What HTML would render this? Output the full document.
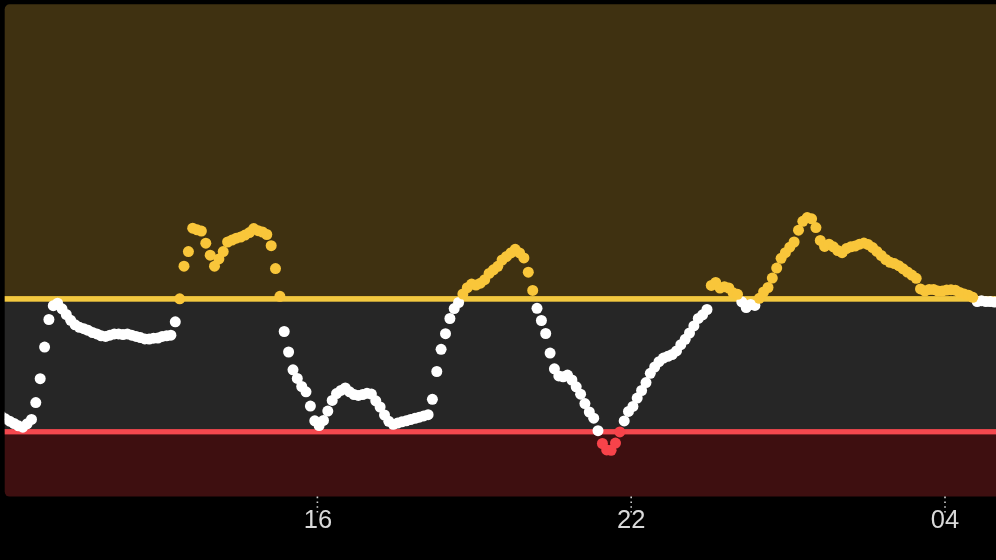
<!DOCTYPE html>
<html lang="en">
<head>
<meta charset="utf-8">
<title>Glucose chart</title>
<style>
html,body{margin:0;padding:0;background:#000;}
body{width:996px;height:560px;overflow:hidden;position:relative;font-family:"Liberation Sans",sans-serif;}
svg{position:absolute;left:0;top:0;display:block;}
.lbl{position:absolute;top:505px;width:60px;margin-left:-30px;text-align:center;color:#d9d9d9;font-size:25.5px;line-height:28px;letter-spacing:0px;}
</style>
</head>
<body>
<svg width="996" height="560" viewBox="0 0 996 560">
<defs>
<clipPath id="plot"><rect x="4.7" y="4.2" width="1010" height="492.4" rx="5" ry="5"/></clipPath>
</defs>
<g clip-path="url(#plot)">
<rect x="0" y="0" width="996" height="298.9" fill="#3f3111"/>
<rect x="0" y="298.9" width="996" height="132.9" fill="#262626"/>
<rect x="0" y="431.75" width="996" height="128.2" fill="#3e0f10"/>
<rect x="0" y="296.10" width="996" height="5.6" fill="#f3c83f"/>
<rect x="0" y="429.10" width="996" height="5.3" fill="#f4484e"/>
<g fill="#ffffff">
<circle cx="1.0" cy="416.0" r="5.5"/>
<circle cx="5.3" cy="418.8" r="5.5"/>
<circle cx="9.7" cy="421.2" r="5.5"/>
<circle cx="14.1" cy="423.5" r="5.5"/>
<circle cx="18.4" cy="425.8" r="5.5"/>
<circle cx="22.8" cy="427.2" r="5.5"/>
<circle cx="27.1" cy="423.8" r="5.5"/>
<circle cx="31.5" cy="419.4" r="5.5"/>
<circle cx="35.8" cy="402.6" r="5.5"/>
<circle cx="40.2" cy="378.7" r="5.5"/>
<circle cx="44.6" cy="347.1" r="5.5"/>
<circle cx="48.9" cy="319.5" r="5.5"/>
<circle cx="53.3" cy="305.7" r="5.5"/>
<circle cx="57.6" cy="303.2" r="5.5"/>
<circle cx="62.0" cy="308.8" r="5.5"/>
<circle cx="66.3" cy="314.5" r="5.5"/>
<circle cx="70.7" cy="320.3" r="5.5"/>
<circle cx="75.1" cy="324.8" r="5.5"/>
<circle cx="79.4" cy="327.3" r="5.5"/>
<circle cx="83.8" cy="328.7" r="5.5"/>
<circle cx="88.1" cy="330.3" r="5.5"/>
<circle cx="92.5" cy="332.5" r="5.5"/>
<circle cx="96.9" cy="333.9" r="5.5"/>
<circle cx="101.2" cy="335.8" r="5.5"/>
<circle cx="105.6" cy="336.4" r="5.5"/>
<circle cx="109.9" cy="335.2" r="5.5"/>
<circle cx="114.3" cy="333.9" r="5.5"/>
<circle cx="118.6" cy="333.9" r="5.5"/>
<circle cx="123.0" cy="334.5" r="5.5"/>
<circle cx="127.4" cy="333.9" r="5.5"/>
<circle cx="131.7" cy="335.2" r="5.5"/>
<circle cx="136.1" cy="336.4" r="5.5"/>
<circle cx="140.4" cy="337.6" r="5.5"/>
<circle cx="144.8" cy="338.9" r="5.5"/>
<circle cx="149.2" cy="339.0" r="5.5"/>
<circle cx="153.5" cy="338.2" r="5.5"/>
<circle cx="157.9" cy="338.0" r="5.5"/>
<circle cx="162.2" cy="336.4" r="5.5"/>
<circle cx="166.6" cy="335.8" r="5.5"/>
<circle cx="170.9" cy="335.2" r="5.5"/>
<circle cx="175.3" cy="321.8" r="5.5"/>
<circle cx="284.2" cy="331.5" r="5.5"/>
<circle cx="288.6" cy="352.0" r="5.5"/>
<circle cx="293.0" cy="369.8" r="5.5"/>
<circle cx="297.3" cy="378.4" r="5.5"/>
<circle cx="301.7" cy="386.5" r="5.5"/>
<circle cx="306.0" cy="391.8" r="5.5"/>
<circle cx="310.4" cy="406.1" r="5.5"/>
<circle cx="314.8" cy="420.8" r="5.5"/>
<circle cx="319.1" cy="425.5" r="5.5"/>
<circle cx="323.5" cy="420.4" r="5.5"/>
<circle cx="327.8" cy="411.1" r="5.5"/>
<circle cx="332.2" cy="400.4" r="5.5"/>
<circle cx="336.5" cy="393.6" r="5.5"/>
<circle cx="340.9" cy="390.4" r="5.5"/>
<circle cx="345.3" cy="387.9" r="5.5"/>
<circle cx="349.6" cy="391.8" r="5.5"/>
<circle cx="354.0" cy="394.5" r="5.5"/>
<circle cx="358.3" cy="395.4" r="5.5"/>
<circle cx="362.7" cy="394.5" r="5.5"/>
<circle cx="367.0" cy="393.3" r="5.5"/>
<circle cx="371.4" cy="394.1" r="5.5"/>
<circle cx="375.8" cy="400.8" r="5.5"/>
<circle cx="380.1" cy="407.0" r="5.5"/>
<circle cx="384.5" cy="415.0" r="5.5"/>
<circle cx="388.8" cy="421.3" r="5.5"/>
<circle cx="393.2" cy="424.3" r="5.5"/>
<circle cx="397.6" cy="423.1" r="5.5"/>
<circle cx="401.9" cy="421.8" r="5.5"/>
<circle cx="406.3" cy="420.8" r="5.5"/>
<circle cx="410.6" cy="419.5" r="5.5"/>
<circle cx="415.0" cy="418.3" r="5.5"/>
<circle cx="419.3" cy="417.2" r="5.5"/>
<circle cx="423.7" cy="415.9" r="5.5"/>
<circle cx="428.1" cy="414.7" r="5.5"/>
<circle cx="432.4" cy="399.3" r="5.5"/>
<circle cx="436.8" cy="371.5" r="5.5"/>
<circle cx="441.1" cy="349.3" r="5.5"/>
<circle cx="445.5" cy="333.7" r="5.5"/>
<circle cx="449.9" cy="318.5" r="5.5"/>
<circle cx="454.2" cy="308.6" r="5.5"/>
<circle cx="458.6" cy="302.5" r="5.5"/>
<circle cx="537.0" cy="308.3" r="5.5"/>
<circle cx="541.4" cy="320.5" r="5.5"/>
<circle cx="545.7" cy="333.5" r="5.5"/>
<circle cx="550.1" cy="353.1" r="5.5"/>
<circle cx="554.4" cy="368.8" r="5.5"/>
<circle cx="558.8" cy="375.9" r="5.5"/>
<circle cx="563.2" cy="376.8" r="5.5"/>
<circle cx="567.5" cy="375.1" r="5.5"/>
<circle cx="571.9" cy="380.0" r="5.5"/>
<circle cx="576.2" cy="386.8" r="5.5"/>
<circle cx="580.6" cy="394.2" r="5.5"/>
<circle cx="584.9" cy="403.6" r="5.5"/>
<circle cx="589.3" cy="412.0" r="5.5"/>
<circle cx="593.7" cy="418.2" r="5.5"/>
<circle cx="598.0" cy="430.7" r="5.5"/>
<circle cx="624.2" cy="420.9" r="5.5"/>
<circle cx="628.5" cy="411.4" r="5.5"/>
<circle cx="632.9" cy="406.4" r="5.5"/>
<circle cx="637.2" cy="398.1" r="5.5"/>
<circle cx="641.6" cy="390.5" r="5.5"/>
<circle cx="646.0" cy="382.6" r="5.5"/>
<circle cx="650.3" cy="373.3" r="5.5"/>
<circle cx="654.7" cy="367.0" r="5.5"/>
<circle cx="659.0" cy="361.7" r="5.5"/>
<circle cx="663.4" cy="358.1" r="5.5"/>
<circle cx="667.8" cy="356.3" r="5.5"/>
<circle cx="672.1" cy="354.5" r="5.5"/>
<circle cx="676.5" cy="350.9" r="5.5"/>
<circle cx="680.8" cy="344.7" r="5.5"/>
<circle cx="685.2" cy="339.3" r="5.5"/>
<circle cx="689.5" cy="333.0" r="5.5"/>
<circle cx="693.9" cy="325.9" r="5.5"/>
<circle cx="698.3" cy="318.4" r="5.5"/>
<circle cx="702.6" cy="314.8" r="5.5"/>
<circle cx="707.0" cy="309.5" r="5.5"/>
<circle cx="741.8" cy="301.8" r="5.5"/>
<circle cx="746.2" cy="307.6" r="5.5"/>
<circle cx="750.6" cy="304.5" r="5.5"/>
<circle cx="754.9" cy="305.4" r="5.5"/>
<circle cx="977.2" cy="301.5" r="5.5"/>
<circle cx="981.5" cy="300.8" r="5.5"/>
<circle cx="985.9" cy="301.5" r="5.5"/>
<circle cx="990.2" cy="301.5" r="5.5"/>
<circle cx="994.6" cy="302.0" r="5.5"/>
<circle cx="999.0" cy="302.0" r="5.5"/>
</g>
<g fill="#f9c63a">
<circle cx="179.7" cy="298.8" r="5.5"/>
<circle cx="184.0" cy="266.2" r="5.5"/>
<circle cx="188.4" cy="251.6" r="5.5"/>
<circle cx="192.7" cy="228.2" r="5.5"/>
<circle cx="197.1" cy="229.8" r="5.5"/>
<circle cx="201.4" cy="231.1" r="5.5"/>
<circle cx="205.8" cy="243.2" r="5.5"/>
<circle cx="210.2" cy="255.2" r="5.5"/>
<circle cx="214.5" cy="266.2" r="5.5"/>
<circle cx="218.9" cy="258.9" r="5.5"/>
<circle cx="223.2" cy="251.6" r="5.5"/>
<circle cx="227.6" cy="242.0" r="5.5"/>
<circle cx="232.0" cy="240.1" r="5.5"/>
<circle cx="236.3" cy="238.2" r="5.5"/>
<circle cx="240.7" cy="237.0" r="5.5"/>
<circle cx="245.0" cy="235.1" r="5.5"/>
<circle cx="249.4" cy="232.6" r="5.5"/>
<circle cx="253.7" cy="228.6" r="5.5"/>
<circle cx="258.1" cy="230.7" r="5.5"/>
<circle cx="262.5" cy="232.0" r="5.5"/>
<circle cx="266.8" cy="234.5" r="5.5"/>
<circle cx="271.2" cy="245.7" r="5.5"/>
<circle cx="275.5" cy="268.6" r="5.5"/>
<circle cx="279.9" cy="296.3" r="5.5"/>
<circle cx="462.9" cy="294.0" r="5.5"/>
<circle cx="467.3" cy="287.7" r="5.5"/>
<circle cx="471.6" cy="284.1" r="5.5"/>
<circle cx="476.0" cy="285.0" r="5.5"/>
<circle cx="480.4" cy="283.2" r="5.5"/>
<circle cx="484.7" cy="279.7" r="5.5"/>
<circle cx="489.1" cy="273.4" r="5.5"/>
<circle cx="493.4" cy="269.8" r="5.5"/>
<circle cx="497.8" cy="266.3" r="5.5"/>
<circle cx="502.1" cy="260.0" r="5.5"/>
<circle cx="506.5" cy="256.4" r="5.5"/>
<circle cx="510.9" cy="252.9" r="5.5"/>
<circle cx="515.2" cy="249.3" r="5.5"/>
<circle cx="519.6" cy="252.9" r="5.5"/>
<circle cx="523.9" cy="257.9" r="5.5"/>
<circle cx="528.3" cy="272.2" r="5.5"/>
<circle cx="532.7" cy="290.4" r="5.5"/>
<circle cx="711.3" cy="285.4" r="5.5"/>
<circle cx="715.7" cy="282.5" r="5.5"/>
<circle cx="720.0" cy="288.0" r="5.5"/>
<circle cx="724.4" cy="286.7" r="5.5"/>
<circle cx="728.8" cy="288.0" r="5.5"/>
<circle cx="733.1" cy="292.8" r="5.5"/>
<circle cx="737.5" cy="294.3" r="5.5"/>
<circle cx="759.3" cy="298.3" r="5.5"/>
<circle cx="763.6" cy="292.0" r="5.5"/>
<circle cx="768.0" cy="287.5" r="5.5"/>
<circle cx="772.3" cy="278.1" r="5.5"/>
<circle cx="776.7" cy="268.1" r="5.5"/>
<circle cx="781.1" cy="258.3" r="5.5"/>
<circle cx="785.4" cy="252.7" r="5.5"/>
<circle cx="789.8" cy="247.2" r="5.5"/>
<circle cx="794.1" cy="242.0" r="5.5"/>
<circle cx="798.5" cy="230.2" r="5.5"/>
<circle cx="802.8" cy="221.3" r="5.5"/>
<circle cx="807.2" cy="217.6" r="5.5"/>
<circle cx="811.6" cy="218.8" r="5.5"/>
<circle cx="815.9" cy="227.6" r="5.5"/>
<circle cx="820.3" cy="240.4" r="5.5"/>
<circle cx="824.6" cy="246.4" r="5.5"/>
<circle cx="829.0" cy="244.2" r="5.5"/>
<circle cx="833.4" cy="246.8" r="5.5"/>
<circle cx="837.7" cy="250.5" r="5.5"/>
<circle cx="842.1" cy="252.7" r="5.5"/>
<circle cx="846.4" cy="248.6" r="5.5"/>
<circle cx="850.8" cy="246.8" r="5.5"/>
<circle cx="855.1" cy="246.0" r="5.5"/>
<circle cx="859.5" cy="244.2" r="5.5"/>
<circle cx="863.9" cy="243.1" r="5.5"/>
<circle cx="868.2" cy="244.6" r="5.5"/>
<circle cx="872.6" cy="247.6" r="5.5"/>
<circle cx="876.9" cy="251.4" r="5.5"/>
<circle cx="881.3" cy="255.5" r="5.5"/>
<circle cx="885.7" cy="259.5" r="5.5"/>
<circle cx="890.0" cy="262.3" r="5.5"/>
<circle cx="894.4" cy="263.6" r="5.5"/>
<circle cx="898.7" cy="265.7" r="5.5"/>
<circle cx="903.1" cy="268.8" r="5.5"/>
<circle cx="907.4" cy="272.0" r="5.5"/>
<circle cx="911.8" cy="275.1" r="5.5"/>
<circle cx="916.2" cy="278.3" r="5.5"/>
<circle cx="920.5" cy="288.9" r="5.5"/>
<circle cx="924.9" cy="291.0" r="5.5"/>
<circle cx="929.2" cy="289.5" r="5.5"/>
<circle cx="933.6" cy="289.5" r="5.5"/>
<circle cx="937.9" cy="291.0" r="5.5"/>
<circle cx="942.3" cy="291.0" r="5.5"/>
<circle cx="946.7" cy="290.0" r="5.5"/>
<circle cx="951.0" cy="289.8" r="5.5"/>
<circle cx="955.4" cy="290.2" r="5.5"/>
<circle cx="959.7" cy="292.5" r="5.5"/>
<circle cx="964.1" cy="293.9" r="5.5"/>
<circle cx="968.5" cy="295.2" r="5.5"/>
<circle cx="972.8" cy="297.3" r="5.5"/>
</g>
<g fill="#f7434a">
<circle cx="602.4" cy="443.5" r="5.5"/>
<circle cx="606.7" cy="449.9" r="5.5"/>
<circle cx="611.1" cy="450.3" r="5.5"/>
<circle cx="615.5" cy="443.1" r="5.5"/>
<circle cx="619.8" cy="431.9" r="5.5"/>
</g>
</g>
<g stroke="#cfcfcf" stroke-width="1.6" stroke-dasharray="1.6 3.2" fill="none">
<line x1="317.4" y1="496.6" x2="317.4" y2="513.5"/>
<line x1="631.2" y1="496.6" x2="631.2" y2="513.5"/>
<line x1="945" y1="496.6" x2="945" y2="513.5"/>
</g>
</svg>
<div class="lbl" style="left:318px">16</div>
<div class="lbl" style="left:631.2px">22</div>
<div class="lbl" style="left:944.9px">04</div>
</body>
</html>
